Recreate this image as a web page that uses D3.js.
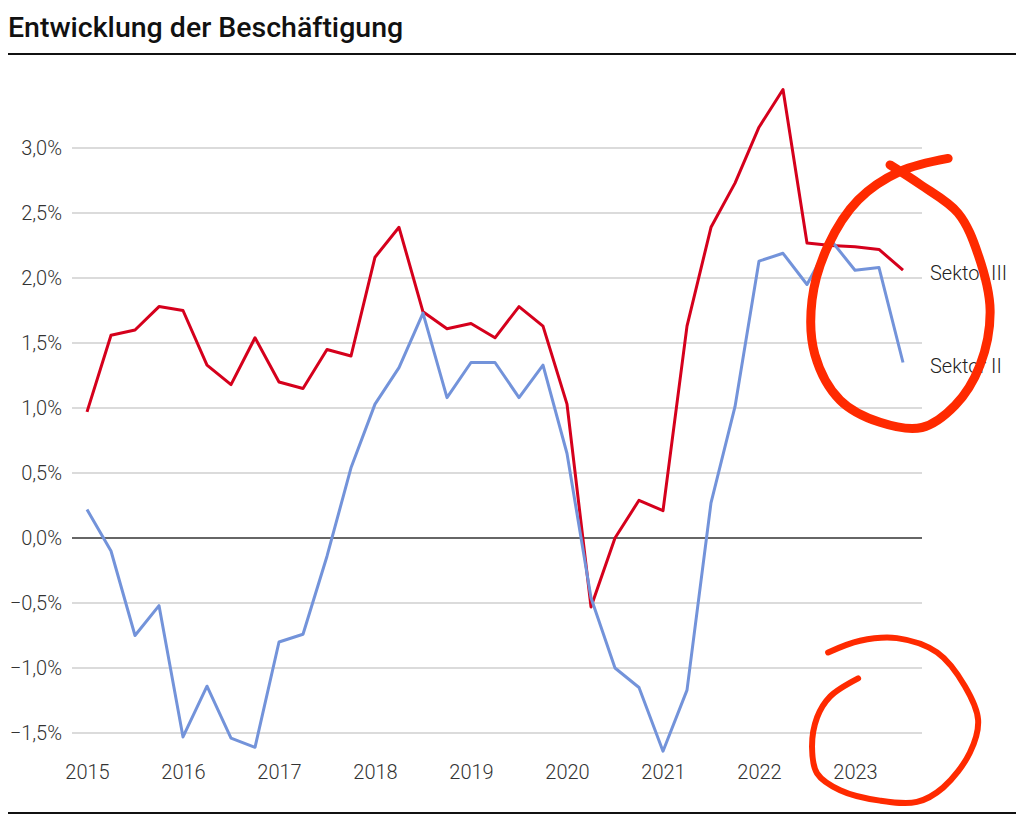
<!DOCTYPE html>
<html>
<head>
<meta charset="utf-8">
<script src="https://cdn.jsdelivr.net/npm/d3@7"></script>
<style>
  body { margin: 0; background: #fff; }
  svg { font-family: Roboto, "Noto Sans", sans-serif; }
</style>
</head>
<body>
<div id="chart"></div>
<script>
// quarterly values, 2015 Q1 .. 2023 Q3 (percent)
var sektor3 = [0.97, 1.56, 1.60, 1.78, 1.75, 1.33, 1.18, 1.54, 1.20, 1.15, 1.45, 1.40,
               2.16, 2.39, 1.74, 1.61, 1.65, 1.54, 1.78, 1.63, 1.03, -0.53, 0.00, 0.29,
               0.21, 1.63, 2.39, 2.73, 3.16, 3.45, 2.27, 2.25, 2.24, 2.22, 2.06];
var sektor2 = [0.22, -0.10, -0.75, -0.52, -1.53, -1.14, -1.54, -1.61, -0.80, -0.74, -0.14, 0.54,
               1.03, 1.31, 1.73, 1.08, 1.35, 1.35, 1.08, 1.33, 0.65, -0.46, -1.00, -1.15,
               -1.64, -1.17, 0.27, 1.01, 2.13, 2.19, 1.95, 2.29, 2.06, 2.08, 1.35];
var years = [2015, 2016, 2017, 2018, 2019, 2020, 2021, 2022, 2023];
var yTicks = [-1.5, -1.0, -0.5, 0, 0.5, 1.0, 1.5, 2.0, 2.5, 3.0];
var seriesNames = ["Sektor III", "Sektor II"];

// hand-drawn marker scribbles, in (quarter index, percent)
var scribbleBig = [[33.46, 2.87], [34.71, 2.72], [36.29, 2.50], [37.13, 2.18], [37.63, 1.75],
                   [37.21, 1.33], [36.17, 1.02], [34.79, 0.85], [33.04, 0.89], [31.38, 1.06],
                   [30.33, 1.41], [30.21, 1.83], [30.88, 2.25], [32.13, 2.60], [33.88, 2.82], [35.88, 2.92]];
var scribbleSmall = [[30.88, -0.88], [32.21, -0.79], [33.75, -0.77], [35.42, -0.88], [36.58, -1.14],
                     [37.13, -1.40], [36.79, -1.65], [35.67, -1.92], [34.58, -2.03], [33.04, -2.02],
                     [31.38, -1.94], [30.42, -1.81], [30.21, -1.61], [30.42, -1.38], [30.96, -1.22], [32.13, -1.08]];

var width = 1024, height = 821;
var plotLeft = 72, plotRight = 922;

var svg = d3.select("#chart").append("svg")
    .attr("width", width)
    .attr("height", height);

// title + rules
svg.append("text")
    .attr("x", 8)
    .attr("y", 37)
    .attr("font-size", 28.5)
    .attr("font-weight", 500)
    .attr("fill", "#111")
    .text("Entwicklung der Beschäftigung");

svg.append("line")
    .attr("x1", 8).attr("x2", 1016)
    .attr("y1", 54).attr("y2", 54)
    .attr("stroke", "#111").attr("stroke-width", 2);

svg.append("line")
    .attr("x1", 8).attr("x2", 1016)
    .attr("y1", 813).attr("y2", 813)
    .attr("stroke", "#111").attr("stroke-width", 2);

var x = d3.scaleLinear()
    .domain([0, 4])
    .range([87, 183]);

var y = d3.scaleLinear()
    .domain([0, 3])
    .range([538, 148]);

var fmt = function(v) {
    var s = d3.format(".1f")(Math.abs(v)).replace(".", ",") + "%";
    return v < 0 ? "\u2212" + s : s;
};

// grid
var grid = svg.append("g");
grid.selectAll("line")
    .data(yTicks)
    .enter().append("line")
    .attr("x1", plotLeft)
    .attr("x2", plotRight)
    .attr("y1", function(d) { return y(d); })
    .attr("y2", function(d) { return y(d); })
    .attr("stroke", function(d) { return d === 0 ? "#333" : "#cfcfcf"; })
    .attr("stroke-width", 1.5);

// y axis labels
var yAxis = d3.axisLeft(y)
    .tickValues(yTicks)
    .tickFormat(fmt)
    .tickSize(0)
    .tickPadding(0);

svg.append("g")
    .attr("transform", "translate(62,0)")
    .call(yAxis)
    .call(function(g) { g.select(".domain").remove(); })
    .selectAll("text")
    .attr("font-family", "Roboto, sans-serif")
    .attr("font-size", 20)
    .attr("font-weight", 300)
    .attr("fill", "#333");

// x axis labels
var xAxis = d3.axisBottom(x)
    .tickValues(years.map(function(d, i) { return i * 4; }))
    .tickFormat(function(d) { return years[d / 4]; })
    .tickSize(0)
    .tickPadding(0);

svg.append("g")
    .attr("transform", "translate(0,765)")
    .call(xAxis)
    .call(function(g) { g.select(".domain").remove(); })
    .selectAll("text")
    .attr("font-family", "Roboto, sans-serif")
    .attr("font-size", 20)
    .attr("font-weight", 300)
    .attr("fill", "#333");

// lines
var line = d3.line()
    .x(function(d, i) { return x(i); })
    .y(function(d) { return y(d); });

var series = [
    {name: seriesNames[0], values: sektor3, color: "#d5001c"},
    {name: seriesNames[1], values: sektor2, color: "#7393da"}
];

series.forEach(function(s) {
    svg.append("path")
        .datum(s.values)
        .attr("fill", "none")
        .attr("stroke", s.color)
        .attr("stroke-width", 3)
        .attr("stroke-linejoin", "round")
        .attr("d", line);

    var last = s.values.length - 1;
    svg.append("text")
        .attr("x", x(last) + 27)
        .attr("y", y(s.values[last]) + 3)
        .attr("dy", "0.35em")
        .attr("font-size", 20)
        .attr("font-weight", 300)
        .attr("fill", "#222")
        .text(s.name);
});

// red scribbles on top
var scribble = d3.line()
    .x(function(d) { return x(d[0]); })
    .y(function(d) { return y(d[1]); })
    .curve(d3.curveCatmullRom.alpha(0.5));

[scribbleBig, scribbleSmall].forEach(function(pts, k) {
    svg.append("path")
        .datum(pts)
        .attr("fill", "none")
        .attr("stroke", "#ff2a00")
        .attr("stroke-width", k === 0 ? 9 : 6)
        .attr("stroke-linecap", "round")
        .attr("stroke-linejoin", "round")
        .attr("d", scribble);
});
</script>
</body>
</html>
